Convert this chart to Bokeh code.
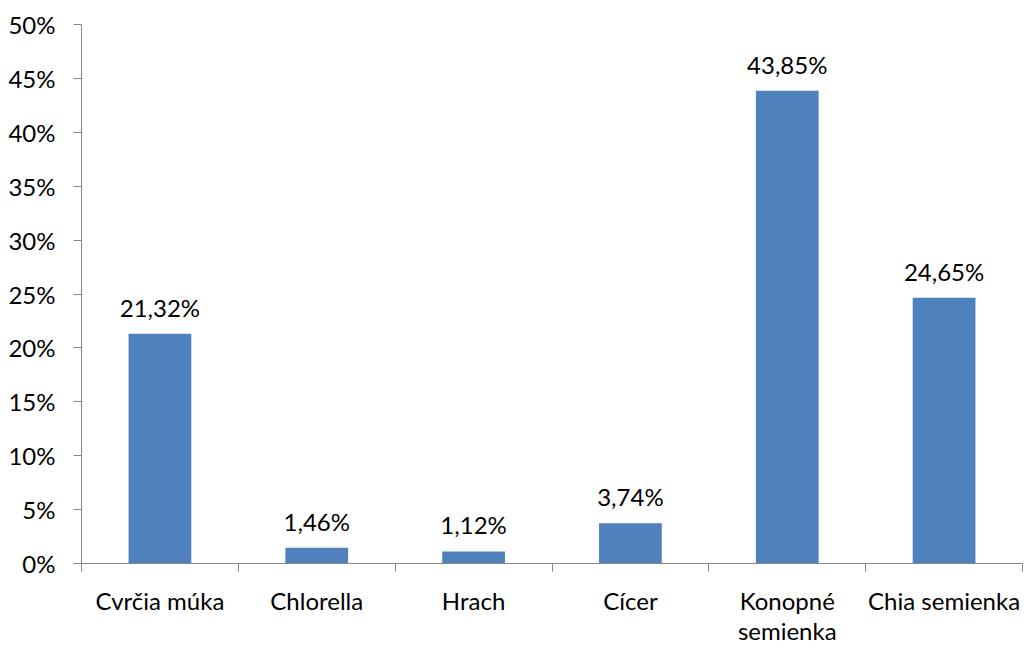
from bokeh.plotting import figure
from bokeh.models import ColumnDataSource, FixedTicker, Range1d
from bokeh.core.properties import value
from bokeh.embed import file_html
from bokeh.resources import INLINE

categories = ["Cvrčia múka", "Chlorella", "Hrach", "Cícer", "Konopné\nsemienka", "Chia semienka"]
values = [21.32, 1.46, 1.12, 3.74, 43.85, 24.65]
y_ticks = [0, 5, 10, 15, 20, 25, 30, 35, 40, 45, 50]

FONT = "Lato"
FS = "24px"
AXIS_COLOR = "#878787"
BAR_COLOR = "#4F81BD"

xs = [i + 0.5 for i in range(len(categories))]
labels = [f"{v:.2f}".replace(".", ",") + "%" for v in values]
src = ColumnDataSource(dict(x=xs, top=values, label=labels))

p = figure(width=1025, height=647, output_backend="svg", toolbar_location=None,
           x_range=Range1d(0, len(categories)), y_range=Range1d(0, 50),
           min_border_left=81, min_border_right=3, min_border_top=24, min_border_bottom=83)
p.outline_line_color = None
p.xgrid.visible = False
p.ygrid.visible = False

p.vbar(x="x", top="top", width=0.4, bottom=0, source=src, fill_color=BAR_COLOR, line_color=None)
p.text(x="x", y="top", text="label", source=src, text_align="center", text_baseline="bottom",
       y_offset=-12, text_font=value(FONT), text_font_size=value(FS), text_color="black")

xa = p.xaxis[0]
xa.ticker = FixedTicker(ticks=xs, minor_ticks=list(range(len(categories) + 1)))
xa.major_label_overrides = {x: c for x, c in zip(xs, categories)}
xa.major_tick_out = 0
xa.major_tick_in = 0
xa.minor_tick_out = 8
xa.minor_tick_in = 0
xa.minor_tick_line_color = AXIS_COLOR
xa.axis_line_color = AXIS_COLOR
xa.major_label_standoff = 14
xa.major_label_text_line_height = 1.05
xa.major_label_text_font = FONT
xa.major_label_text_font_size = FS
xa.major_label_text_color = "black"

ya = p.yaxis[0]
ya.ticker = FixedTicker(ticks=y_ticks, minor_ticks=[])
ya.major_label_overrides = {t: f"{t}%" for t in y_ticks}
ya.major_tick_out = 8
ya.major_tick_in = 0
ya.major_tick_line_color = AXIS_COLOR
ya.axis_line_color = AXIS_COLOR
ya.major_label_standoff = 18
ya.major_label_text_font = FONT
ya.major_label_text_font_size = FS
ya.major_label_text_color = "black"

open("out.html", "w").write(file_html(p, INLINE))
